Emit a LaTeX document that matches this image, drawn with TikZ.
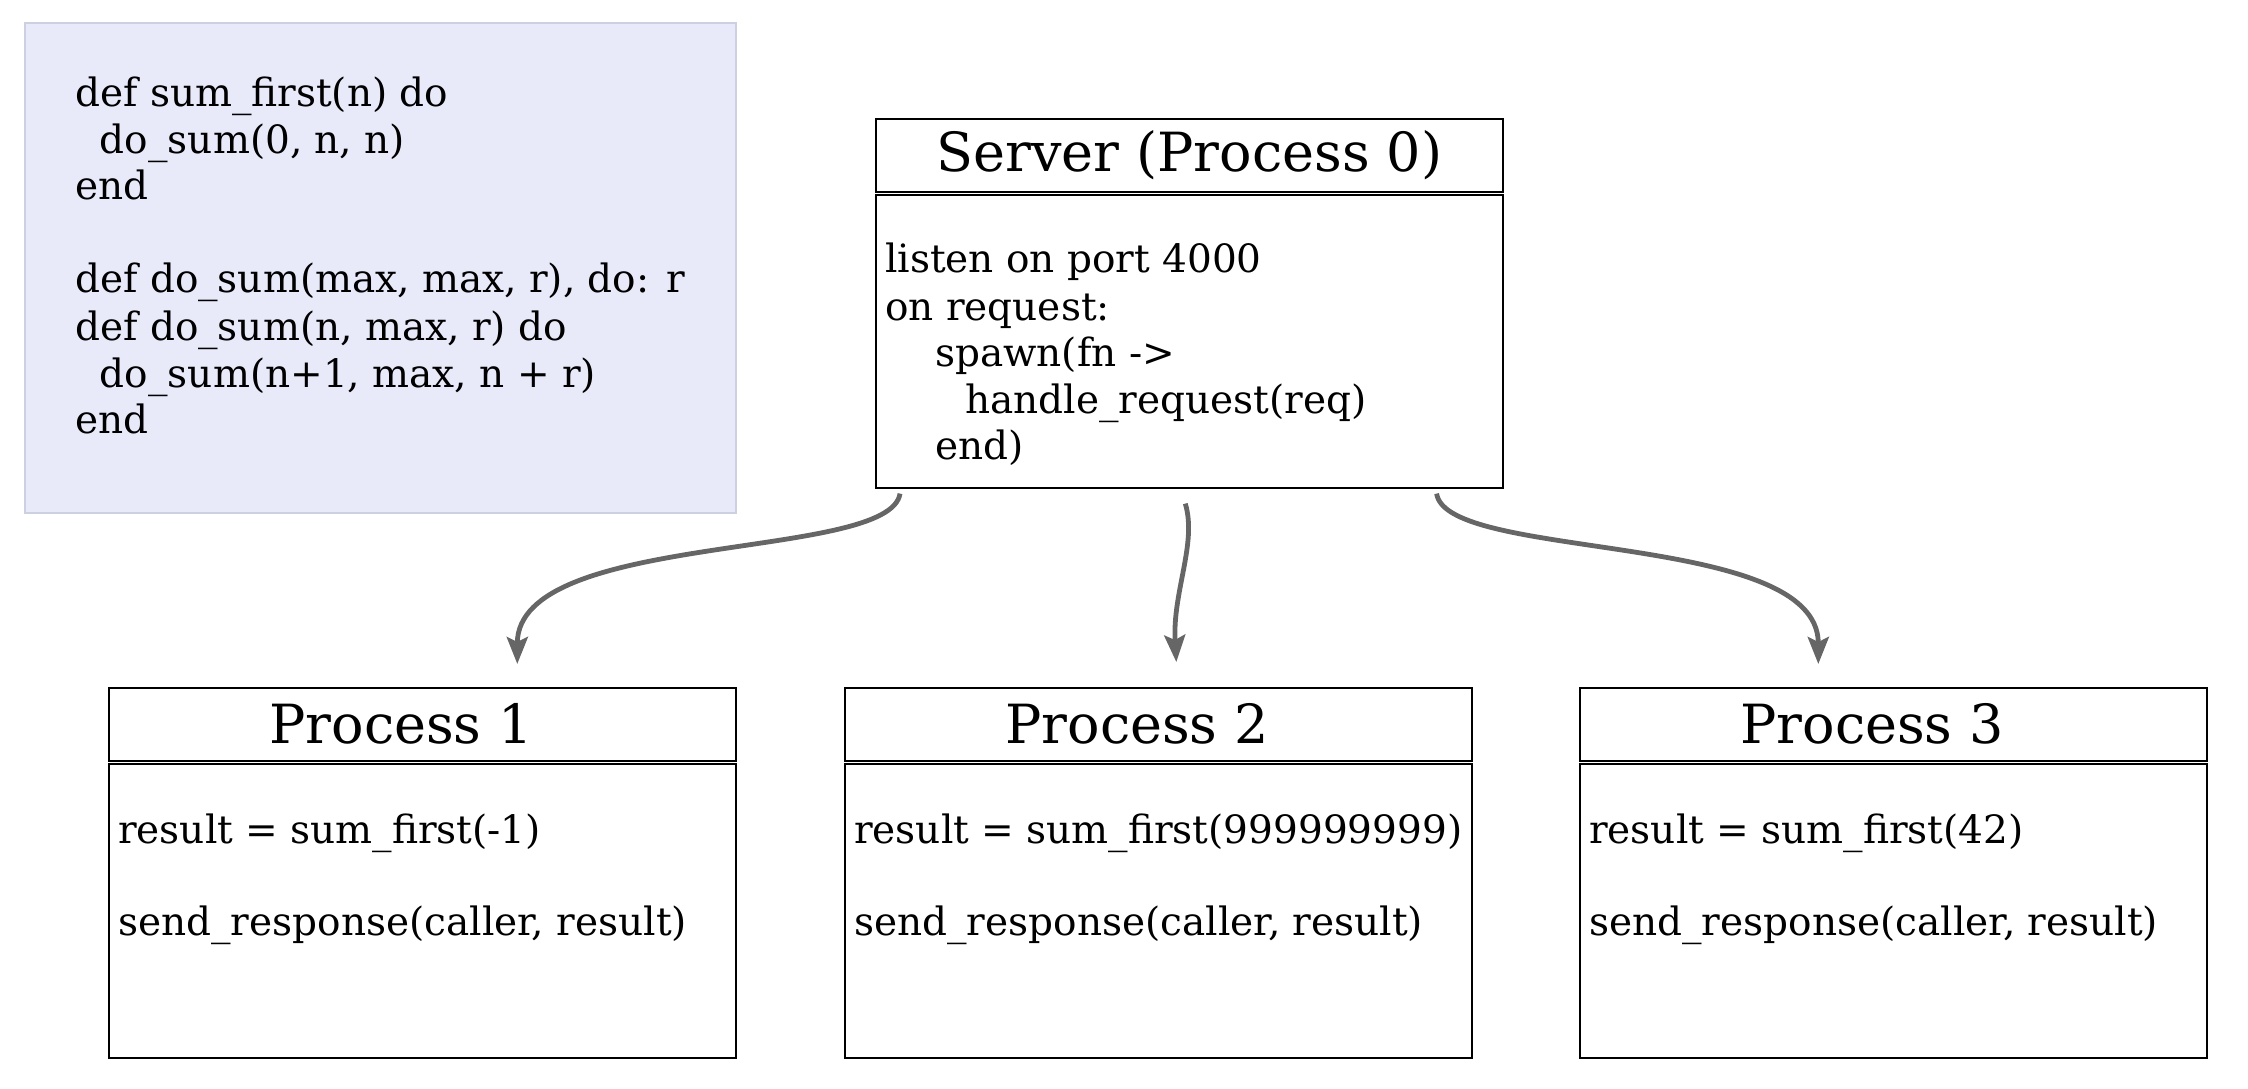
\documentclass[tikz,border=0pt]{standalone}
\usepackage{fontspec}
\setmainfont{DejaVu Serif}
\usetikzlibrary{arrows.meta,calc}
\definecolor{codefill}{HTML}{E8EAFA}
\definecolor{codeline}{HTML}{CDD0E0}
\definecolor{arrowgray}{HTML}{666666}
\newcommand{\bodyfont}{\fontsize{39}{46}\selectfont}
\newcommand{\titlefont}{\fontsize{54}{62}\selectfont}
\newcommand{\proctitle}[1]{#1\kern42pt\null}
\begin{document}
\begin{tikzpicture}[x=1pt,y=-1pt,
  hdrbox/.style={draw=black,line width=1.6pt,inner sep=0pt,minimum width=627pt,minimum height=73pt,anchor=north west,font=\titlefont},
  bodybox/.style={draw=black,line width=1.6pt,inner sep=0pt,minimum width=627pt,minimum height=294pt,anchor=north west},
  txt/.style={anchor=base west,inner sep=0pt,font=\bodyfont},
  spawnarrow/.style={draw=arrowgray,line width=4.8pt,-{Stealth[length=27pt,width=21pt,inset=5pt]}}]
\useasboundingbox (0,0) rectangle (2248,1088);
% code box
\node[draw=codeline,fill=codefill,line width=1.6pt,anchor=north west,minimum width=711pt,minimum height=490pt,inner sep=0pt] (codebox) at (24,22) {};
\node[txt] (c1) at (75,106) {def sum\_first(n) do};
\node[txt] (c2) at (75,153) {\ \ do\_sum(0, n, n)};
\node[txt] (c3) at (75,199) {end};
\node[txt] (c4) at (75,292) {def do\_sum(max, max, r), do: r};
\node[txt] (c5) at (75,340) {def do\_sum(n, max, r) do};
\node[txt] (c6) at (75,387) {\ \ do\_sum(n+1, max, n + r)};
\node[txt] (c7) at (75,433) {end};
% server
\node[hdrbox] (srvH) at (875,118) {Server (Process 0)};
\node[bodybox,minimum height=293pt] (srvB) at (875,194) {};
\node[txt] (s1) at (885,272) {listen on port 4000};
\node[txt] (s2) at (885,320) {on request:};
\node[txt] (s3) at (935,366) {spawn(fn ->};
\node[txt] (s4) at (965,413) {handle\_request(req)};
\node[txt] (s5) at (935,459) {end)};
% processes
\node[hdrbox] (p1H) at (108,687) {\proctitle{Process 1}};
\node[bodybox] (p1B) at (108,763) {};
\node[txt] (p1a) at (118,843) {result = sum\_first(-1)};
\node[txt] (p1b) at (118,935) {send\_response(caller, result)};
\node[hdrbox] (p2H) at (844,687) {\proctitle{Process 2}};
\node[bodybox] (p2B) at (844,763) {};
\node[txt] (p2a) at (854,843) {result = sum\_first(999999999)};
\node[txt] (p2b) at (854,935) {send\_response(caller, result)};
\node[hdrbox] (p3H) at (1579,687) {\proctitle{Process 3}};
\node[bodybox] (p3B) at (1579,763) {};
\node[txt] (p3a) at (1589,843) {result = sum\_first(42)};
\node[txt] (p3b) at (1589,935) {send\_response(caller, result)};
% arrows
\coordinate (a1s) at ($(srvB.south west)+(25,5)$);
\coordinate (a1e) at ($(p1H.north)+(95,-23)$);
\coordinate (a2s) at ($(srvB.south)+(-4,15)$);
\coordinate (a2e) at ($(p2H.north)+(18,-25)$);
\coordinate (a3s) at ($(srvB.south east)+(-67,5)$);
\coordinate (a3e) at ($(p3H.north)+(-75,-23)$);
\draw[spawnarrow] (a1s) .. controls ($(a1s)+(-10,68)$) and ($(a1e)+(0,-134)$) .. (a1e);
\draw[spawnarrow] (a2s) .. controls ($(a2s)+(12,40)$) and ($(a2e)+(-4,-70)$) .. (a2e);
\draw[spawnarrow] (a3s) .. controls ($(a3s)+(10,68)$) and ($(a3e)+(0,-134)$) .. (a3e);
\end{tikzpicture}
\end{document}
